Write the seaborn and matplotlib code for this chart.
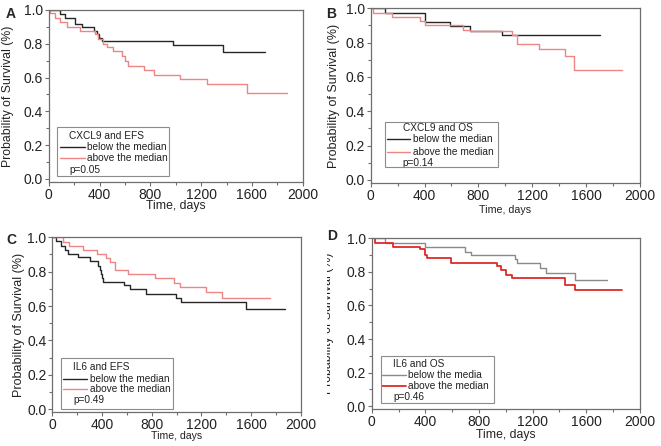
import matplotlib
matplotlib.use("Agg")
import matplotlib.pyplot as plt
import seaborn as sns
import pandas as pd
from matplotlib.patches import Rectangle
from matplotlib.lines import Line2D
from matplotlib.ticker import MultipleLocator

sns.set_theme(style="ticks")
plt.rcParams['font.family'] = ['Liberation Sans', 'DejaVu Sans']
plt.rcParams['xtick.minor.visible'] = True
plt.rcParams['ytick.minor.visible'] = True

# Kaplan-Meier steps (time in days, survival probability)
a_below_t = [0, 89, 128, 207, 265, 359, 378, 396, 417, 982, 1370, 1703]
a_below_s = [1.0, 0.975, 0.95, 0.92, 0.897, 0.875, 0.855, 0.836, 0.818, 0.793, 0.753, 0.753]
a_above_t = [0, 10, 50, 89, 142, 246, 365, 391, 430, 457, 509, 575, 602, 628, 750, 829, 1034, 1244, 1559, 1874]
a_above_s = [1.0, 0.98, 0.955, 0.926, 0.90, 0.875, 0.855, 0.83, 0.80, 0.78, 0.755, 0.725, 0.70, 0.669, 0.645, 0.615, 0.59, 0.56, 0.51, 0.51]

b_below_t = [0, 110, 405, 590, 737, 972, 1702]
b_below_s = [1.0, 0.973, 0.922, 0.895, 0.868, 0.843, 0.843]
b_above_t = [0, 20, 155, 366, 403, 688, 737, 1047, 1084, 1250, 1443, 1512, 1864]
b_above_s = [1.0, 0.975, 0.95, 0.925, 0.90, 0.875, 0.868, 0.843, 0.79, 0.76, 0.724, 0.64, 0.64]

c_below_t = [0, 30, 70, 100, 130, 210, 300, 370, 385, 395, 402, 410, 577, 623, 751, 998, 1038, 1561, 1870]
c_below_s = [1.0, 0.975, 0.95, 0.925, 0.905, 0.885, 0.86, 0.835, 0.81, 0.785, 0.765, 0.74, 0.72, 0.696, 0.67, 0.647, 0.622, 0.58, 0.58]
c_above_t = [0, 86, 132, 247, 362, 434, 464, 502, 609, 829, 979, 1024, 1238, 1364, 1749]
c_above_s = [1.0, 0.97, 0.948, 0.923, 0.90, 0.878, 0.855, 0.81, 0.785, 0.76, 0.735, 0.71, 0.68, 0.645, 0.645]

d_below_t = [0, 102, 400, 694, 739, 1067, 1080, 1254, 1299, 1515, 1751]
d_below_s = [1.0, 0.973, 0.947, 0.92, 0.898, 0.875, 0.85, 0.82, 0.79, 0.75, 0.75]
d_above_t = [0, 27, 159, 358, 400, 415, 589, 937, 967, 1004, 1047, 1440, 1515, 1868]
d_above_s = [1.0, 0.973, 0.95, 0.935, 0.90, 0.88, 0.855, 0.835, 0.81, 0.78, 0.762, 0.722, 0.69, 0.69]

y_ticks = [0.0, 0.2, 0.4, 0.6, 0.8, 1.0]
y_tick_labels = ["0.0", "0.2", "0.4", "0.6", "0.8", "1.0"]

panels = [
    dict(letter="A", title="CXCL9 and EFS", p="p=0.05",
         below=(a_below_t, a_below_s), above=(a_above_t, a_above_s),
         labels=["below the median", "above the median"],
         colors=["#262626", "#ee8585"], lw=[1.0, 1.0],
         rect=[0.0737, 0.5926, 0.3843, 0.385],
         box=(0.033, 0.033, 0.44, 0.286),
         rows=(0.268, 0.204, 0.136, 0.068), hx=(0.045, 0.143, 0.152, 0.080),
         xl_fs=8.8, yl_fs=8.8, xl_y=-0.108, yl_x=-0.137),
    dict(letter="B", title="CXCL9 and OS", p="p=0.14",
         below=(b_below_t, b_below_s), above=(b_above_t, b_above_s),
         labels=["below the median", "above the median"],
         colors=["#262626", "#ee8585"], lw=[1.0, 1.0],
         rect=[0.5608, 0.5904, 0.4074, 0.391],
         box=(0.053, 0.092, 0.421, 0.258),
         rows=(0.312, 0.249, 0.178, 0.111), hx=(0.059, 0.146, 0.158, 0.119),
         xl_fs=7.7, yl_fs=9.0, xl_y=-0.128, yl_x=-0.114),
    dict(letter="C", title="IL6 and EFS", p="p=0.49",
         below=(c_below_t, c_below_s), above=(c_above_t, c_above_s),
         labels=["below the median", "above the median"],
         colors=["#262626", "#ee8585"], lw=[1.0, 1.0],
         rect=[0.0791, 0.0762, 0.3762, 0.392],
         box=(0.036, 0.017, 0.45, 0.292),
         rows=(0.259, 0.189, 0.131, 0.069), hx=(0.043, 0.141, 0.150, 0.083),
         xl_fs=7.6, yl_fs=9.0, xl_y=-0.108, yl_x=-0.110),
    dict(letter="D", title="IL6 and OS", p="p=0.46",
         below=(d_below_t, d_below_s), above=(d_above_t, d_above_s),
         labels=["below the media", "above the median"],
         colors=["#8a8a8a", "#e02a2a"], lw=[1.0, 1.3],
         rect=[0.5623, 0.083, 0.4059, 0.383],
         box=(0.034, 0.035, 0.422, 0.275),
         rows=(0.265, 0.197, 0.133, 0.070), hx=(0.037, 0.128, 0.136, 0.081),
         xl_fs=8.8, yl_fs=8.8, xl_y=-0.12, yl_x=-0.142),
]

fig = plt.figure(figsize=(6.61, 4.46), dpi=100)
spine_col = "#6e6e6e"
txt_col = "#222222"

for pn in panels:
    ax = fig.add_axes(pn["rect"])
    for (t, s), lab, col, lw in zip([pn["below"], pn["above"]], pn["labels"], pn["colors"], pn["lw"]):
        df = pd.DataFrame({"t": t, "s": s})
        sns.lineplot(data=df, x="t", y="s", ax=ax, estimator=None, sort=False,
                     drawstyle="steps-post", color=col, lw=lw, label=lab, legend=False)
    ax.set_xlim(0, 2000)
    ax.set_ylim(-0.016, 1.0)
    ax.minorticks_on()
    ax.xaxis.set_major_locator(MultipleLocator(400))
    ax.xaxis.set_minor_locator(MultipleLocator(200))
    ax.set_yticks(y_ticks)
    ax.set_yticklabels(y_tick_labels)
    ax.yaxis.set_minor_locator(MultipleLocator(0.1))
    ax.tick_params(which="major", direction="out", length=3.2, width=0.8, color=spine_col,
                   labelsize=10, pad=1.0, labelcolor=txt_col)
    ax.tick_params(which="minor", direction="out", length=2.4, width=0.8, color=spine_col)
    for sp in ax.spines.values():
        sp.set_visible(True)
        sp.set_color(spine_col)
        sp.set_linewidth(0.9)
    ax.set_xlabel("Time, days", fontsize=pn["xl_fs"], color=txt_col)
    ax.set_ylabel("Probability of Survival (%)", fontsize=pn["yl_fs"], color=txt_col)
    ax.xaxis.set_label_coords(0.5, pn["xl_y"])
    ax.yaxis.set_label_coords(pn["yl_x"], 0.5)

    # legend box
    bx, by, bw, bh = pn["box"]
    ax.add_patch(Rectangle((bx, by), bw, bh, transform=ax.transAxes, fill=False,
                           edgecolor="#8c8c8c", lw=0.8, zorder=5))
    r0, r1, r2, r3 = pn["rows"]
    h0, h1, lx, tx = pn["hx"]
    fs = 7.3
    ax.text(tx, r0, pn["title"], transform=ax.transAxes, fontsize=fs, va="center", color=txt_col)
    for ry, lab, col, lw in zip([r1, r2], pn["labels"], pn["colors"], pn["lw"]):
        ax.add_line(Line2D([h0, h1], [ry, ry], transform=ax.transAxes, color=col, lw=lw))
        ax.text(lx, ry, lab, transform=ax.transAxes, fontsize=fs, va="center", color=txt_col)
    ax.text(tx, r3, pn["p"], transform=ax.transAxes, fontsize=fs, va="center", color=txt_col)

# panel D's y label is largely cut off in the original: mask its left part
fig.add_artist(Rectangle((0.479, 0.05), 0.0155, 0.43, transform=fig.transFigure,
                         facecolor="white", edgecolor="none", zorder=10))

# panel letters
fig.text(0.008, 0.985, "A", fontsize=10, fontweight="bold", va="top", zorder=11)
fig.text(0.493, 0.985, "B", fontsize=10, fontweight="bold", va="top", zorder=11)
fig.text(0.010, 0.478, "C", fontsize=10, fontweight="bold", va="top", zorder=11)
fig.text(0.495, 0.487, "D", fontsize=10, fontweight="bold", va="top", zorder=11)

fig.savefig("out.png", dpi=100)
